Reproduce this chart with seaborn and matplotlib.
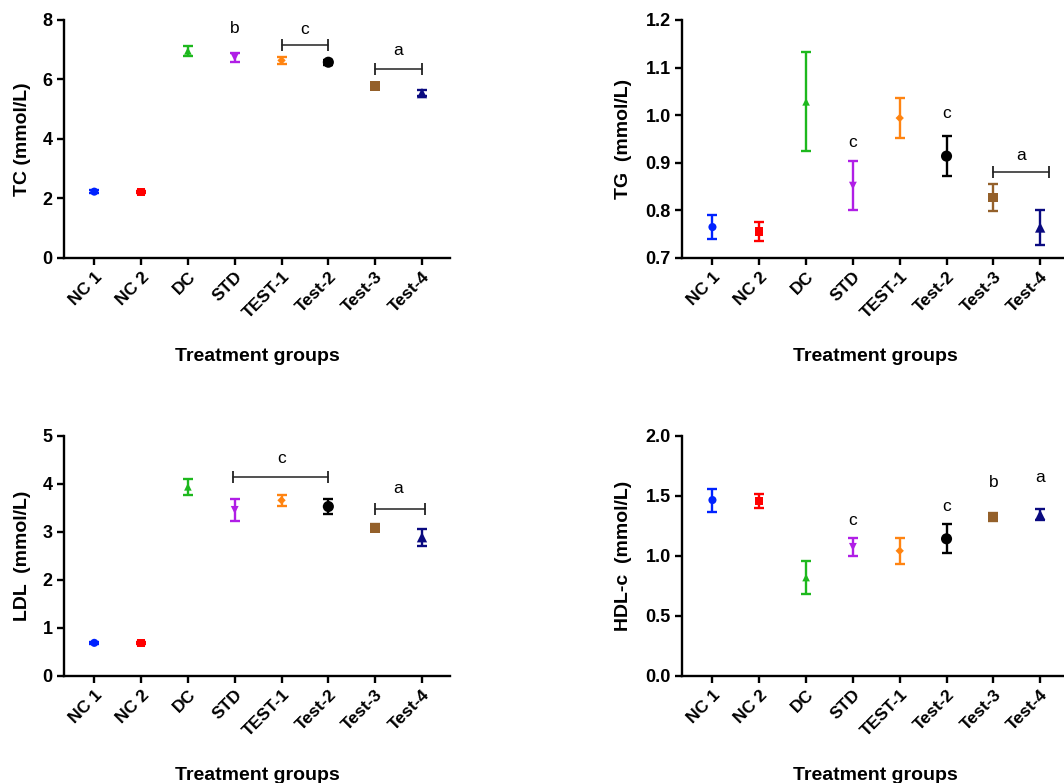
"""Lipid profile panels (TC, TG, LDL, HDL-c) per treatment group."""

import matplotlib
matplotlib.use("Agg")
import matplotlib.pyplot as plt
import pandas as pd
import seaborn as sns

groups = ["NC 1", "NC 2", "DC", "STD", "TEST-1", "Test-2", "Test-3", "Test-4"]

tc_mean = [2.23, 2.21, 6.96, 6.74, 6.64, 6.58, 5.78, 5.54]
tc_sd = [0.05, 0.04, 0.16, 0.15, 0.13, 0.08, 0.10, 0.10]

tg_mean = [0.765, 0.756, 1.028, 0.852, 0.994, 0.914, 0.827, 0.764]
tg_sd = [0.025, 0.020, 0.104, 0.052, 0.042, 0.042, 0.028, 0.036]

ldl_mean = [0.69, 0.69, 3.94, 3.46, 3.66, 3.53, 3.09, 2.89]
ldl_sd = [0.02, 0.02, 0.17, 0.23, 0.11, 0.16, 0.08, 0.18]

hdl_mean = [1.466, 1.460, 0.820, 1.076, 1.043, 1.143, 1.324, 1.343]
hdl_sd = [0.096, 0.060, 0.140, 0.075, 0.110, 0.120, 0.035, 0.045]

# significance letters: (x, y, letter) and brackets: (x1, x2, y)
tc_letters = [(3, 7.45, "b"), (4.5, 7.42, "c"), (6.5, 6.73, "a")]
tc_brackets = [(4, 5, 7.16), (6, 7, 6.35)]
tg_letters = [(3, 0.926, "c"), (5, 0.987, "c"), (6.6, 0.90, "a")]
tg_brackets = [(6, 7.18, 0.88)]
ldl_letters = [(4, 4.38, "c"), (6.5, 3.75, "a")]
ldl_brackets = [(2.96, 5, 4.15), (6, 7.06, 3.48)]
hdl_letters = [(3, 1.235, "c"), (5, 1.35, "c"), (6, 1.55, "b"), (7, 1.59, "a")]
hdl_brackets = []

colors = {"NC 1": "#0022ff", "NC 2": "#ff0000", "DC": "#1db81d", "STD": "#b01ee6",
          "TEST-1": "#ff8411", "Test-2": "#000000", "Test-3": "#94602a", "Test-4": "#0a0a80"}
markers = {"NC 1": "o", "NC 2": "s", "DC": "^", "STD": "v",
           "TEST-1": "D", "Test-2": "o", "Test-3": "s", "Test-4": "^"}
sizes = {"NC 1": 34, "NC 2": 36, "DC": 30, "STD": 32,
         "TEST-1": 18, "Test-2": 64, "Test-3": 50, "Test-4": 55}

sns.set_style("ticks")
plt.rcParams["font.family"] = ["Liberation Sans", "DejaVu Sans"]
plt.rcParams["font.weight"] = "bold"
for key in ["text.color", "axes.labelcolor", "xtick.color", "ytick.color"]:
    plt.rcParams[key] = "black"

fig = plt.figure(figsize=(10.64, 7.83), dpi=100)

panels = [
    ([0.060, 0.6705, 0.363, 0.304], tc_mean, tc_sd, "TC (mmol/L)", (0, 8), [0, 2, 4, 6, 8], "{:.0f}", tc_letters, tc_brackets),
    ([0.641, 0.6705, 0.363, 0.304], tg_mean, tg_sd, "TG  (mmol/L)", (0.7, 1.2), [0.7, 0.8, 0.9, 1.0, 1.1, 1.2], "{:.1f}", tg_letters, tg_brackets),
    ([0.060, 0.1367, 0.363, 0.3065], ldl_mean, ldl_sd, "LDL  (mmol/L)", (0, 5), [0, 1, 2, 3, 4, 5], "{:.0f}", ldl_letters, ldl_brackets),
    ([0.641, 0.1367, 0.363, 0.3065], hdl_mean, hdl_sd, "HDL-c  (mmol/L)", (0, 2.0), [0, 0.5, 1.0, 1.5, 2.0], "{:.1f}", hdl_letters, hdl_brackets),
]

for rect, mean, sd, ylabel, ylim, yticks, fmt, letters, brackets in panels:
    ax = fig.add_axes(rect)
    df = pd.DataFrame({"group": groups, "x": range(len(groups)), "mean": mean, "sd": sd})

    for _, row in df.iterrows():
        ax.errorbar(row["x"], row["mean"], yerr=row["sd"], fmt="none",
                    ecolor=colors[row["group"]], elinewidth=1.7, capsize=3.5,
                    capthick=1.7, zorder=2)

    sns.scatterplot(data=df, x="x", y="mean", hue="group", style="group",
                    size="group", palette=colors, markers=markers, sizes=sizes,
                    linewidth=0, legend=False, ax=ax, zorder=3)

    for x1, x2, y in brackets:
        ax.plot([x1, x2], [y, y], color="#222222", lw=1.1, marker="|",
                markersize=9, markeredgewidth=1.3, zorder=2)
    for x, y, s in letters:
        ax.text(x, y, s, ha="center", va="bottom", fontsize=12.5,
                fontweight="normal", color="black")

    ax.set_xlim(-0.65, 7.6)
    ax.set_ylim(*ylim)
    ax.set_xticks(range(len(groups)))
    ax.set_xticklabels(groups, rotation=45, ha="right", rotation_mode="anchor",
                       fontsize=12.5, fontweight="bold")
    ax.set_yticks(yticks)
    ax.set_yticklabels([fmt.format(v) for v in yticks], fontsize=13, fontweight="bold")
    ax.set_ylabel(ylabel, fontsize=14, fontweight="bold")
    ax.set_xlabel("Treatment groups", fontsize=14, fontweight="bold")
    ax.xaxis.set_label_coords(0.5, -0.38)
    ax.yaxis.set_label_coords(-0.085 if rect[0] < 0.5 else -0.13, 0.5)

    sns.despine(ax=ax)
    for side in ["left", "bottom"]:
        ax.spines[side].set_linewidth(1.7)
        ax.spines[side].set_color("black")
    ax.tick_params(axis="both", direction="out", length=5, width=1.7, color="black", pad=3)

fig.savefig("out.png", dpi=100)
